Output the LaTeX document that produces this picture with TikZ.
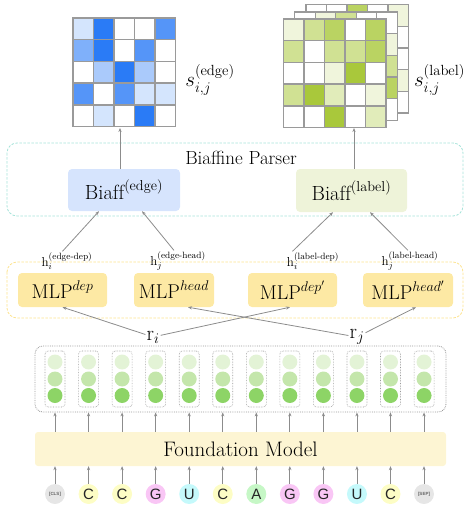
\documentclass[tikz,border=0pt]{standalone}
\usepackage{fix-cm}
\usepackage{fontspec}
\usepackage{amsmath}
\usetikzlibrary{arrows.meta,positioning}
\newfontfamily\tokfont{Liberation Sans}
\definecolor{edgeblue}{HTML}{2A7BF6}
\definecolor{labgreen}{HTML}{A9C83B}
\definecolor{gridgray}{HTML}{9A9A9A}
\definecolor{arrgray}{HTML}{8C8C8C}
\definecolor{parserteal}{HTML}{A6E3D9}
\definecolor{biaffblue}{HTML}{D6E4FD}
\definecolor{biafflab}{HTML}{EEF3D9}
\definecolor{mlpdash}{HTML}{FCE38F}
\definecolor{mlpfill}{HTML}{FDE9A4}
\definecolor{fmfill}{HTML}{FDF5D3}
\definecolor{repA}{HTML}{E3F3D6}
\definecolor{repB}{HTML}{C4E6AB}
\definecolor{repC}{HTML}{8DD466}
\definecolor{tokgray}{HTML}{E6E6E6}
\definecolor{tokyel}{HTML}{FDFDC5}
\definecolor{tokpink}{HTML}{F9C6F5}
\definecolor{tokcyan}{HTML}{C5F9FB}
\definecolor{tokgreen}{HTML}{C6F7C6}

\tikzset{
  arr/.style={-{Stealth[length=4pt,width=3.2pt]},draw=arrgray,line width=0.8pt},
  cell/.style={draw=gridgray,line width=1.4pt},
  parserbox/.style={draw=parserteal,line width=0.8pt,dash pattern=on 2.5pt off 1.5pt,rounded corners=10pt},
  mlpbox/.style={draw=mlpdash,line width=0.8pt,dash pattern=on 2.5pt off 1.5pt,rounded corners=10pt},
  repbox/.style={draw=gridgray,line width=0.8pt,densely dotted,rounded corners=8pt},
  biaff/.style={rounded corners=4pt,inner sep=0pt,font=\fontsize{20.5}{24}\selectfont},
  mlp/.style={fill=mlpfill,rounded corners=4pt,minimum height=34,inner sep=0pt,font=\fontsize{20}{24}\selectfont},
  hlab/.style={font=\fontsize{13}{15}\selectfont,inner sep=1pt},
  colbox/.style={draw=gridgray,line width=0.6pt,densely dotted,rounded corners=3pt,minimum width=20,minimum height=56,inner sep=0pt},
  token/.style={circle,minimum size=20,inner sep=0pt,font=\fontsize{15}{15}\tokfont,text=black!85},
}

% 5x5 score matrix: x, y (top left), colour, rows of shades
\newcommand{\heatmap}[4]{%
  \foreach \vals [count=\mrow] in {#4}
    \foreach \v [count=\mcol] in \vals
      \filldraw[cell,fill=#3!\v] (#1+20.5*\mcol-20.5,#2+21.7*\mrow-21.7) rectangle ++(20.5,21.7);
}

\begin{document}
\begin{tikzpicture}[x=1pt,y=-1pt]
  \useasboundingbox (0,0) rectangle (465,507);

  % score matrices
  \heatmap{73}{18}{edgeblue}{{20,100,0,0,80},{60,100,0,80,0},{0,40,100,40,0},{80,0,80,20,20},{0,20,0,100,0}}
  \node[font=\fontsize{21}{24}\selectfont,inner sep=0pt] (sedge) at (210,80) {$s_{i,j}^{(\mathrm{edge})}$};

  \heatmap{306}{4.5}{labgreen}{{0,0,80,0,18},{0,0,0,0,0},{0,0,0,0,0},{0,0,0,0,18},{0,0,0,0,0}}
  \heatmap{294.7}{11.8}{labgreen}{{0,18,55,0,0},{0,0,0,0,18},{0,0,0,0,55},{0,0,0,0,80},{0,0,0,0,0}}
  \heatmap{283.4}{19}{labgreen}{{18,55,80,0,80},{55,0,55,55,80},{0,0,18,100,0},{55,100,35,0,18},{0,0,100,0,35}}
  \node[font=\fontsize{21}{24}\selectfont,inner sep=0pt] (slabel) at (439.5,80) {$s_{i,j}^{(\mathrm{label})}$};

  % Biaffine parser
  \draw[parserbox] (7,143) rectangle (463,216);
  \node[font=\fontsize{19}{22}\selectfont] (parser) at (241,158) {Biaffine Parser};
  \node[biaff,fill=biaffblue,minimum width=112,minimum height=42] (biaffedge) at (124,190) {$\mathrm{Biaff}^{(\mathrm{edge})}$};
  \node[biaff,fill=biafflab,minimum width=111,minimum height=43] (biafflabel) at (351.5,190.5) {$\mathrm{Biaff}^{(\mathrm{label})}$};

  \coordinate (edgebot) at (120,128);
  \coordinate (labelbot) at (354,128);
  \draw[arr] (biaffedge.north -| edgebot) -- (edgebot);
  \draw[arr] (biafflabel.north -| labelbot) -- (labelbot);

  % MLPs
  \draw[mlpbox] (7,262) rectangle (463,318);
  \node[mlp,minimum width=89] (mlpdep) at (62.5,290) {$\mathrm{MLP}^{dep}$};
  \node[mlp,minimum width=80] (mlphead) at (174,290) {$\mathrm{MLP}^{head}$};
  \node[mlp,minimum width=89] (mlpdepp) at (292.5,290) {$\mathrm{MLP}^{dep'}$};
  \node[mlp,minimum width=90] (mlpheadp) at (408,290) {$\mathrm{MLP}^{head'}$};

  \node[hlab] (hdep) at (67,261) {$\mathrm{h}_i^{(\text{edge-dep})}$};
  \node[hlab] (hhead) at (178,261) {$\mathrm{h}_j^{(\text{edge-head})}$};
  \node[hlab] (hdepp) at (313,261) {$\mathrm{h}_i^{(\text{label-dep})}$};
  \node[hlab] (hheadp) at (410,261) {$\mathrm{h}_j^{(\text{label-head})}$};

  \draw[arr] (mlpdep.north |- hdep.north) -- ([xshift=-25pt]biaffedge.south);
  \draw[arr] (mlphead.north |- hhead.north) -- ([xshift=18pt]biaffedge.south);
  \draw[arr] (mlpdepp.north |- hdepp.north) -- ([xshift=-18.5pt]biafflabel.south);
  \draw[arr] (mlpheadp.north |- hheadp.north) -- ([xshift=18.5pt]biafflabel.south);

  % token representations
  \node[font=\fontsize{21}{24}\selectfont,inner sep=1pt] (ri) at (153,337) {$\mathrm{r}_i$};
  \node[font=\fontsize{21}{24}\selectfont,inner sep=1pt] (rj) at (357,337) {$\mathrm{r}_j$};
  \draw[arr] (ri) -- (mlpdep.south);
  \draw[arr] (ri) -- ([xshift=-2.5pt]mlpdepp.south);
  \draw[arr] (rj) -- ([xshift=14pt]mlphead.south);
  \draw[arr] (rj) -- ([xshift=8pt]mlpheadp.south);

  \node[repbox,minimum width=411,minimum height=66] (rep) at (240.5,379) {};
  \foreach \i in {1,...,12} {
    \node[colbox] (col\i) at ({55+33.55*(\i-1)},379) {};
    \fill[repA] ([yshift=17pt]col\i.center) circle (7.5pt);
    \fill[repB] (col\i.center) circle (7.5pt);
    \fill[repC] ([yshift=-16.5pt]col\i.center) circle (7.5pt);
  }

  % Foundation model
  \node[fill=fmfill,rounded corners=3pt,minimum width=411,minimum height=34,font=\fontsize{21}{24}\selectfont] (fm) at (240.5,449) {Foundation Model};

  % input tokens
  \node[token,fill=tokgray,font=\fontsize{4.5}{5}\tokfont\bfseries,text=black!60] (tok1) at (55,494) {[CLS]};
  \foreach \t/\tc [count=\i from 2] in {C/tokyel,C/tokyel,G/tokpink,U/tokcyan,C/tokyel,A/tokgreen,G/tokpink,G/tokpink,U/tokcyan,C/tokyel}
    \node[token,fill=\tc] (tok\i) at ({55+33.55*(\i-1)},494) {\t};
  \node[token,fill=tokgray,font=\fontsize{4.5}{5}\tokfont\bfseries,text=black!60] (tok12) at (424,494) {[SEP]};

  \foreach \i in {1,...,12} {
    \draw[arr] (tok\i) -- (tok\i |- fm.south);
    \draw[arr] (col\i |- fm.north) -- (col\i |- rep.south);
  }
\end{tikzpicture}
\end{document}
